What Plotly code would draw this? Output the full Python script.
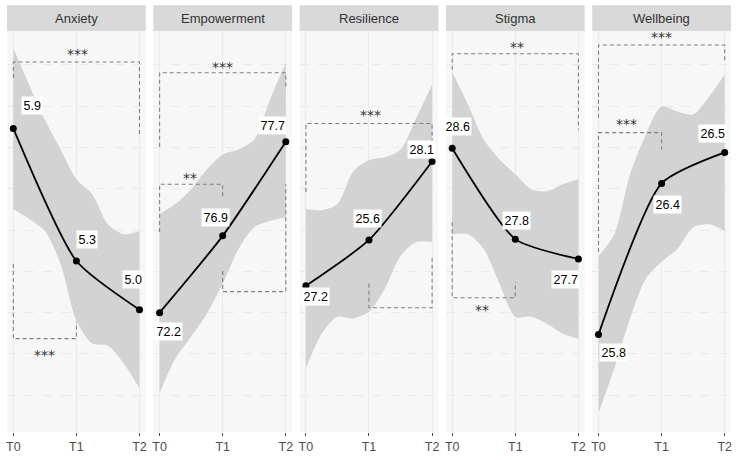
import plotly.graph_objects as go
from plotly.subplots import make_subplots

# ---------------- data ----------------
panels = ["Anxiety", "Empowerment", "Resilience", "Stigma", "Wellbeing"]
time_labels = ["T0", "T1", "T2"]
time_x = [0, 1, 2]

# plotted (standardised) position of each mean
line_y = [
    [2.46, -0.75, -1.93],
    [-2.00, -0.14, 2.14],
    [-1.35, -0.24, 1.66],
    [1.98, -0.22, -0.70],
    [-2.53, 1.13, 1.88],
]
# printed mean values
mean_text = [
    ["5.9", "5.3", "5.0"],
    ["72.2", "76.9", "77.7"],
    ["27.2", "25.6", "28.1"],
    ["28.6", "27.8", "27.7"],
    ["25.8", "26.4", "26.5"],
]
label_x = [
    [0.29, 1.17, 1.90],
    [0.14, 0.88, 1.79],
    [0.16, 0.98, 1.84],
    [0.08, 1.02, 1.79],
    [0.24, 1.10, 1.81],
]
label_y = [
    [3.01, -0.22, -1.20],
    [-2.46, 0.31, 2.53],
    [-1.61, 0.29, 1.95],
    [2.51, 0.24, -1.20],
    [-2.96, 0.63, 2.34],
]

# confidence ribbon, read at these x positions
ribbon_x = [0, 0.25, 0.5, 0.75, 1, 1.25, 1.5, 1.75, 2]
ribbon_upper = [
    [4.41, 3.52, 2.67, 1.95, 1.23, 0.87, 0.14, -0.10, -0.02],
    [0.39, 0.63, 0.99, 1.47, 1.83, 1.95, 2.19, 3.16, 4.05],
    [0.51, 0.48, 0.63, 1.42, 1.69, 1.76, 1.95, 2.72, 3.52],
    [3.83, 3.04, 2.19, 1.71, 1.35, 0.99, 0.94, 1.11, 1.23],
    [-0.63, -0.10, 1.35, 2.31, 2.99, 2.87, 2.80, 3.23, 3.76],
]
ribbon_lower = [
    [0.51, 0.27, -0.02, -0.82, -2.19, -2.75, -2.80, -3.23, -3.83],
    [-3.95, -3.11, -2.58, -2.02, -1.30, -0.46, 0.07, 0.22, 0.31],
    [-3.35, -2.51, -2.10, -2.14, -1.98, -1.42, -0.63, -0.29, -0.29],
    [-0.10, -0.10, -0.46, -1.30, -2.10, -2.10, -2.27, -2.51, -2.63],
    [-4.43, -3.35, -2.14, -1.18, -0.77, -0.46, 0.07, 0.14, -0.02],
]

# significance brackets
br_panel = [0, 0, 1, 1, 1, 2, 2, 3, 3, 4, 4]
br_x0 = [0, 0, 0, 0, 1, 0, 1, 0, 0, 0, 0]
br_x1 = [2, 1, 2, 1, 2, 2, 2, 2, 1, 2, 1]
br_bar = [4.07, -2.63, 3.81, 1.11, -1.49, 2.58, -1.88, 4.27, -1.64, 4.48, 2.36]
br_left_end = [3.69, -0.82, 2.02, -0.05, -0.99, 0.92, -1.30, 3.88, 0.19, 2.72, -0.53]
br_right_end = [2.27, -2.22, 3.40, 0.80, 1.11, 2.12, -0.63, 2.43, -1.25, 4.07, 1.95]
br_stars = ["***", "***", "***", "**", "", "***", "", "**", "**", "***", "***"]
star_x = [1.02, 0.50, 1.00, 0.48, 1.5, 1.02, 1.5, 1.02, 0.48, 1.00, 0.45]
star_y = [4.26, -3.02, 3.96, 1.26, -1.49, 2.78, -1.88, 4.44, -1.93, 4.68, 2.56]

# ---------------- figure ----------------
W, H = 738, 460
ML, MR, MT, MB = 7, 6, 31, 26
plot_w = W - ML - MR
gap = 7.5 / plot_w

fig = make_subplots(rows=1, cols=5, horizontal_spacing=gap)

FONT = "Liberation Sans, Arial, sans-serif"
RIBBON = "#D3D3D3"
DASH = "#7F7F7F"

for i, name in enumerate(panels):
    col = i + 1
    fig.add_trace(go.Scatter(x=ribbon_x, y=ribbon_lower[i], mode="lines",
                             line=dict(width=0, shape="spline", smoothing=0.8),
                             hoverinfo="skip", showlegend=False), row=1, col=col)
    fig.add_trace(go.Scatter(x=ribbon_x, y=ribbon_upper[i], mode="lines",
                             line=dict(width=0, shape="spline", smoothing=0.8),
                             fill="tonexty", fillcolor=RIBBON,
                             hoverinfo="skip", showlegend=False), row=1, col=col)

for k in range(len(br_panel)):
    col = br_panel[k] + 1
    fig.add_trace(go.Scatter(
        x=[br_x0[k], br_x0[k], br_x1[k], br_x1[k]],
        y=[br_left_end[k], br_bar[k], br_bar[k], br_right_end[k]],
        mode="lines", line=dict(color=DASH, width=1.1, dash="4px,3px"),
        hoverinfo="skip", showlegend=False), row=1, col=col)

for i, name in enumerate(panels):
    col = i + 1
    fig.add_trace(go.Scatter(x=time_x, y=line_y[i], mode="lines+markers",
                             line=dict(color="black", width=1.8, shape="spline", smoothing=0.6),
                             marker=dict(color="black", size=7),
                             hoverinfo="skip", showlegend=False), row=1, col=col)

annotations = []
for i, name in enumerate(panels):
    xr = "x" if i == 0 else f"x{i+1}"
    yr = "y" if i == 0 else f"y{i+1}"
    for j in range(3):
        annotations.append(dict(x=label_x[i][j], y=label_y[i][j], xref=xr, yref=yr,
                                text=mean_text[i][j], showarrow=False,
                                font=dict(family=FONT, size=12.5, color="black"),
                                bgcolor="white", borderpad=1.5))
for k in range(len(br_panel)):
    if not br_stars[k]:
        continue
    i = br_panel[k]
    xr = "x" if i == 0 else f"x{i+1}"
    yr = "y" if i == 0 else f"y{i+1}"
    annotations.append(dict(x=star_x[k], y=star_y[k], xref=xr, yref=yr,
                            text=br_stars[k], showarrow=False, yanchor="middle",
                            font=dict(family="DejaVu Sans, sans-serif", size=14, color="#333333")))

# strip headers
shapes = []
strip_top = (H - MB - 5) / (H - MT - MB)
for i, name in enumerate(panels):
    xr = "x domain" if i == 0 else f"x{i+1} domain"
    shapes.append(dict(type="rect", xref=xr, yref="paper", x0=0, x1=1,
                       y0=1.0, y1=strip_top, fillcolor="#D9D9D9", line=dict(width=0),
                       layer="below"))
    annotations.append(dict(x=0.5, y=(1.0 + strip_top) / 2, xref=xr, yref="paper",
                            text=name, showarrow=False, yanchor="middle",
                            font=dict(family=FONT, size=13, color="#333333")))

fig.update_xaxes(range=[-0.1, 2.1], tickvals=time_x, ticktext=time_labels,
                 showgrid=True, gridcolor="#EBEBEB", gridwidth=1,
                 ticks="outside", ticklen=3, tickcolor="#4D4D4D", tickwidth=1,
                 tickfont=dict(family=FONT, size=12.5, color="#4D4D4D"),
                 zeroline=False, showline=False, fixedrange=True)
fig.update_yaxes(range=[-4.89, 4.82], dtick=1, tick0=0, showticklabels=False,
                 showgrid=True, gridcolor="#EAEAEA", gridwidth=1, griddash="dash",
                 ticks="", zeroline=False, showline=False, fixedrange=True)

fig.update_layout(width=W, height=H, margin=dict(l=ML, r=MR, t=MT, b=MB),
                  paper_bgcolor="white", plot_bgcolor="#F7F7F7",
                  annotations=annotations, shapes=shapes, showlegend=False,
                  font=dict(family=FONT))

fig.write_html("out.html")
